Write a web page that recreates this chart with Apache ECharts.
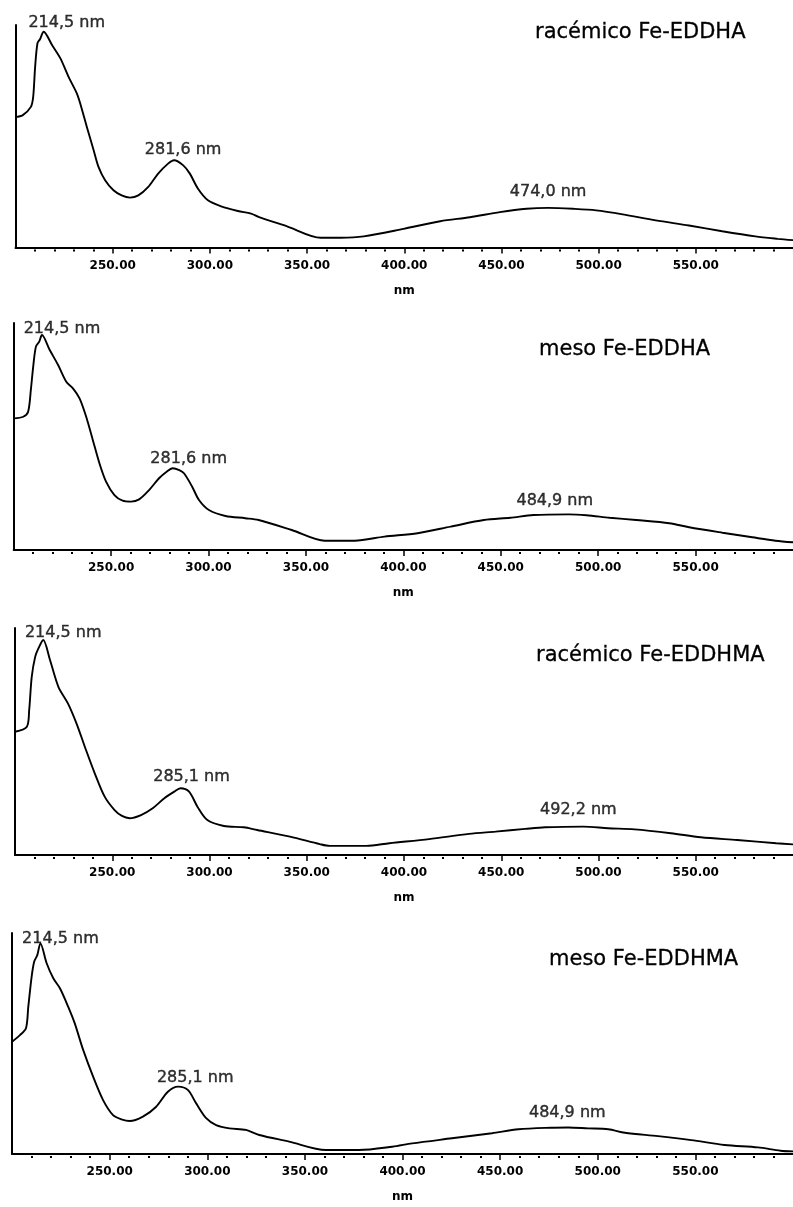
<!DOCTYPE html>
<html>
<head>
<meta charset="utf-8">
<script src="https://cdn.jsdelivr.net/npm/echarts@6/dist/echarts.min.js"></script>
<style>
  html, body { margin: 0; padding: 0; background: #fff; }
  #chart { width: 793px; height: 1207px; }
</style>
</head>
<body>
<div id="chart"></div>
<script>
// --- data (absorbance in arbitrary units, 0..1 of panel height) ---
const racEddhaNm = [200, 203.6, 207.9, 209.1, 210.1, 211.3, 212.6, 214.5, 218.8, 223.1, 227.3, 231.6, 233.3, 236.7, 240.2, 242.7, 246.1, 250.4, 254.6, 258.9, 263.2, 268.3, 273.4, 278.5, 281.6, 286.3, 289.7, 293.9, 299.0, 305.8, 314.4, 321.2, 325, 340, 357, 367.3, 379.2, 399.7, 418.5, 433.8, 449.2, 462.9, 474.0, 486.8, 498.7, 512.4, 529.4, 546.5, 563.6, 580.6, 592.2, 600];
const racEddhaAbs = [0.587, 0.594, 0.632, 0.677, 0.812, 0.918, 0.936, 0.970, 0.910, 0.850, 0.767, 0.692, 0.647, 0.542, 0.437, 0.362, 0.302, 0.257, 0.234, 0.224, 0.234, 0.272, 0.332, 0.377, 0.392, 0.369, 0.332, 0.264, 0.212, 0.185, 0.164, 0.152, 0.138, 0.094, 0.044, 0.044, 0.050, 0.084, 0.118, 0.136, 0.159, 0.174, 0.178, 0.174, 0.167, 0.149, 0.122, 0.099, 0.073, 0.050, 0.039, 0.033];
const racEddhaPeaks = [214.5, 281.6, 474.0];

const mesoEddhaNm = [200, 204.9, 207.4, 208.8, 210.0, 211.4, 213.1, 214.5, 218.5, 222.8, 227.0, 230.4, 233.8, 237.2, 240.6, 244.0, 247.4, 251.7, 255.9, 260.2, 264.4, 269.5, 274.6, 278.5, 281.6, 285.0, 287.4, 291.6, 295.1, 300.2, 308.7, 318.9, 325.7, 342.7, 359.7, 375.0, 390.3, 407.3, 424.3, 441.3, 454.9, 466.8, 484.9, 494, 505.9, 519.5, 536.5, 546.7, 563.8, 579.1, 591.0, 600];
const mesoEddhaAbs = [0.580, 0.587, 0.609, 0.705, 0.807, 0.896, 0.918, 0.947, 0.881, 0.815, 0.741, 0.712, 0.668, 0.587, 0.485, 0.382, 0.301, 0.242, 0.217, 0.213, 0.223, 0.264, 0.316, 0.345, 0.360, 0.352, 0.338, 0.279, 0.220, 0.176, 0.150, 0.140, 0.132, 0.088, 0.041, 0.041, 0.059, 0.074, 0.103, 0.132, 0.142, 0.154, 0.157, 0.153, 0.142, 0.132, 0.118, 0.100, 0.076, 0.056, 0.041, 0.034];
const mesoEddhaPeaks = [214.5, 281.6, 484.9];

const racEddhmaNm = [200, 206.1, 207.3, 208.6, 210.4, 212.1, 214.5, 218.0, 222.3, 227.2, 231.6, 235.9, 241.0, 246.1, 251.2, 255, 258.9, 264.8, 270.8, 276.8, 281.9, 285.1, 289.5, 293.8, 298.9, 307.4, 317.6, 324.5, 341.4, 356.7, 361.8, 380.6, 392.5, 412.9, 433.4, 447.0, 462.3, 472.5, 492.2, 504.9, 518.5, 537.2, 552.6, 571.3, 591.4, 600];
const racEddhmaAbs = [0.543, 0.565, 0.639, 0.785, 0.874, 0.911, 0.947, 0.859, 0.741, 0.668, 0.580, 0.477, 0.360, 0.257, 0.198, 0.172, 0.162, 0.176, 0.206, 0.250, 0.279, 0.294, 0.279, 0.213, 0.154, 0.128, 0.122, 0.110, 0.081, 0.048, 0.040, 0.040, 0.052, 0.070, 0.093, 0.103, 0.115, 0.122, 0.125, 0.118, 0.113, 0.096, 0.078, 0.066, 0.052, 0.047];
const racEddhmaPeaks = [214.5, 285.1, 492.2];

const mesoEddhmaNm = [200, 204.0, 207.1, 208.3, 210.0, 211.3, 212.9, 214.5, 217.7, 221.1, 224.5, 228.7, 232.1, 236.4, 241.5, 246.6, 251.7, 256.0, 260.2, 267.0, 273.8, 279.8, 285.1, 290.0, 294.3, 299.4, 304.5, 311.3, 319.8, 326.6, 341.9, 360.7, 377.7, 394.7, 404.9, 425.3, 445.8, 459.4, 476.4, 484.9, 495, 505.4, 513.9, 530.9, 547.9, 565.0, 582.0, 593.6, 600];
const mesoEddhmaAbs = [0.508, 0.538, 0.569, 0.667, 0.802, 0.870, 0.900, 0.953, 0.863, 0.795, 0.750, 0.667, 0.591, 0.471, 0.350, 0.244, 0.176, 0.157, 0.149, 0.169, 0.214, 0.282, 0.305, 0.290, 0.229, 0.162, 0.131, 0.116, 0.109, 0.086, 0.056, 0.018, 0.018, 0.033, 0.048, 0.071, 0.094, 0.112, 0.119, 0.120, 0.116, 0.112, 0.096, 0.081, 0.063, 0.041, 0.030, 0.015, 0.012];
const mesoEddhmaPeaks = [214.5, 285.1, 484.9];

const titles = ['racémico Fe-EDDHA', 'meso Fe-EDDHA', 'racémico Fe-EDDHMA', 'meso Fe-EDDHMA'];
const xTicks = [250, 300, 350, 400, 450, 500, 550];
const xMinorTicks = [210, 220, 230, 240, 260, 270, 280, 290, 310, 320, 330, 340, 360, 370, 380, 390,
  410, 420, 430, 440, 460, 470, 480, 490, 510, 520, 530, 540, 560, 570, 580, 590];

const spectra = [
  { nm: racEddhaNm, abs: racEddhaAbs, peaks: racEddhaPeaks },
  { nm: mesoEddhaNm, abs: mesoEddhaAbs, peaks: mesoEddhaPeaks },
  { nm: racEddhmaNm, abs: racEddhmaAbs, peaks: racEddhmaPeaks },
  { nm: mesoEddhmaNm, abs: mesoEddhmaAbs, peaks: mesoEddhmaPeaks }
];

// --- layout (pixels) ---
const layout = [
  { left: 15.5, top: 25, height: 222.5, title: [535, 22], peakOffsets: [[23, -9], [9, -10], [0, -16]] },
  { left: 13.7, top: 323, height: 227, title: [539, 339], peakOffsets: [[20, -6], [16, -9], [-14, -14]] },
  { left: 15, top: 628, height: 227, title: [536, 645], peakOffsets: [[20, -7], [11, -11], [-5, -17]] },
  { left: 12.1, top: 933, height: 221, title: [549, 949], peakOffsets: [[20, -5], [17, -9], [-1, -15]] }
];

const FONT = 'DejaVu Sans';
const fmtPeak = (v) => v.toFixed(1).replace('.', ',') + ' nm';

const chart = echarts.init(document.getElementById('chart'), null, { renderer: 'canvas' });

const grid = [], xAxis = [], yAxis = [], series = [], title = [];

spectra.forEach((s, i) => {
  const L = layout[i];
  grid.push({ left: L.left, top: L.top, width: 782, height: L.height, containLabel: false });
  title.push({
    text: titles[i],
    left: L.title[0],
    top: L.title[1],
    padding: 0,
    textStyle: { fontFamily: FONT, fontSize: 21, fontWeight: 'normal', color: '#000', textBorderColor: '#000', textBorderWidth: 0.3 }
  });
  xAxis.push({
    gridIndex: i,
    type: 'value',
    min: 200,
    max: 600,
    interval: 50,
    name: 'nm',
    nameLocation: 'middle',
    nameGap: 37,
    nameTextStyle: { fontFamily: FONT, fontSize: 12, fontWeight: 'bold', color: '#000' },
    axisLine: { show: true, onZero: false, lineStyle: { color: '#000', width: 2 } },
    axisTick: { show: true, length: 6, customValues: xTicks, lineStyle: { color: '#000', width: 1.5 } },
    minorTick: { show: false },
    splitLine: { show: false },
    axisLabel: {
      margin: 12,
      fontFamily: FONT,
      fontSize: 12,
      fontWeight: 'bold',
      color: '#000',
      customValues: xTicks,
      formatter: (v) => v.toFixed(2)
    }
  });
  yAxis.push({
    gridIndex: i,
    type: 'value',
    min: 0,
    max: 1,
    axisLine: { show: true, lineStyle: { color: '#000', width: 2 } },
    axisTick: { show: false },
    axisLabel: { show: false },
    splitLine: { show: false }
  });
  // second x axis on the same grid, only for the dotted 10 nm minor ticks
  xAxis.push({
    gridIndex: i,
    type: 'value',
    min: 200,
    max: 600,
    position: 'bottom',
    axisLine: { show: false },
    axisLabel: { show: false },
    splitLine: { show: false },
    axisTick: { show: true, length: 5, customValues: xMinorTicks, lineStyle: { color: '#000', width: 2, type: [2, 3], dashOffset: 3 } }
  });
  const xi = i * 2;
  series.push({
    type: 'line',
    xAxisIndex: xi,
    yAxisIndex: i,
    data: s.nm.map((x, k) => [x, s.abs[k]]),
    showSymbol: false,
    symbol: 'none',
    smooth: 0.3,
    lineStyle: { color: '#000', width: 1.9 },
    silent: true
  });
  // peak labels, anchored on the spectrum point at each peak wavelength
  series.push({
    type: 'scatter',
    xAxisIndex: xi,
    yAxisIndex: i,
    symbolSize: 1,
    itemStyle: { color: 'rgba(0,0,0,0)' },
    data: s.peaks.map((p, k) => ({
      value: [p, s.abs[s.nm.indexOf(p)]],
      label: { offset: L.peakOffsets[k] }
    })),
    label: {
      show: true,
      position: 'inside',
      formatter: (d) => fmtPeak(d.value[0]),
      fontFamily: FONT,
      fontSize: 16,
      color: '#000',
      textBorderColor: '#000',
      textBorderWidth: 0.4
    },
    silent: true
  });
});

chart.setOption({
  animation: false,
  backgroundColor: '#fff',
  title,
  grid,
  xAxis,
  yAxis,
  series
});
</script>
</body>
</html>
